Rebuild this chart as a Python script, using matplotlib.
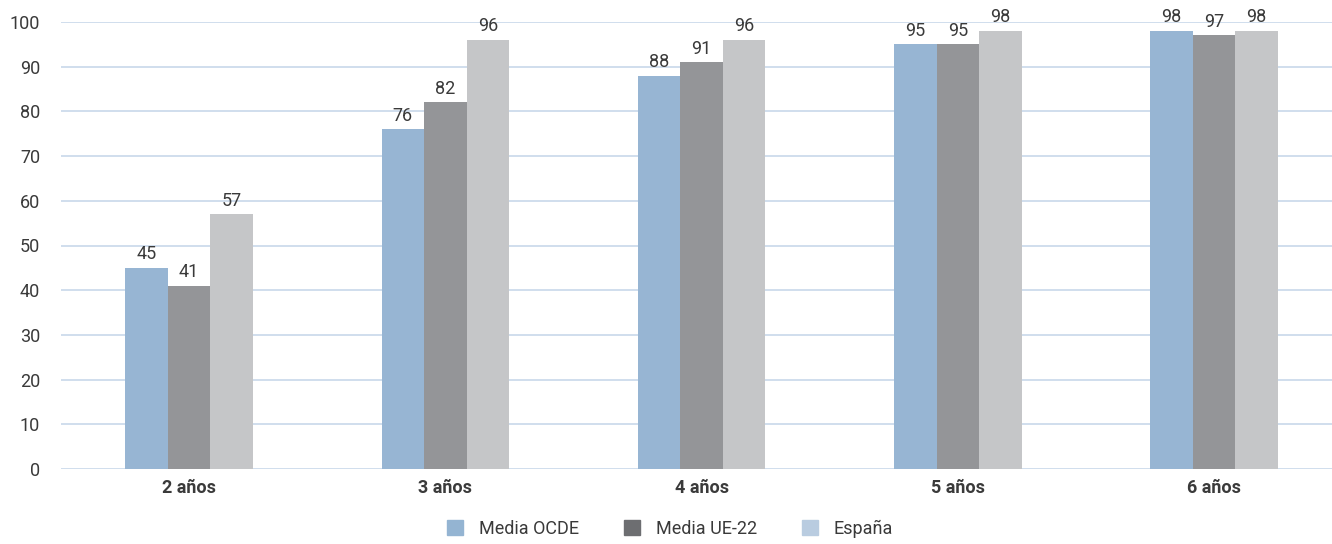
import matplotlib
matplotlib.use('Agg')
import matplotlib.pyplot as plt
from matplotlib.patches import Patch
import numpy as np

plt.rcParams['font.family'] = ['Roboto', 'DejaVu Sans']

categories = ['2 años', '3 años', '4 años', '5 años', '6 años']
series_names = ['Media OCDE', 'Media UE-22', 'España']
ocde = [45, 76, 88, 95, 98]
ue22 = [41, 82, 91, 95, 97]
espana = [57, 96, 96, 98, 98]

bar_colors = ['#97b5d3', '#949598', '#c5c6c8']
legend_colors = ['#94b4d2', '#6d6e71', '#b9cce0']
text_color = '#3a3a3a'

fig = plt.figure(figsize=(13.32, 5.44), dpi=100)
ax = fig.add_axes([61 / 1332, 75 / 544, 1 - 61 / 1332, 447 / 544])

x = np.arange(len(categories))
w = 0.166
for i, (vals, col) in enumerate(zip([ocde, ue22, espana], bar_colors)):
    pos = x + (i - 1) * w
    ax.bar(pos, vals, width=w, color=col, zorder=3)
    for p, v in zip(pos, vals):
        ax.text(p, v + 1.0, str(v), ha='center', va='bottom', fontsize=13, color=text_color)

ax.set_ylim(0, 100)
ax.set_xlim(-0.5, 4.46)
ax.set_yticks(range(0, 101, 10))
ax.yaxis.grid(True, color='#c8d8ea', linewidth=1.2, zorder=0)
ax.set_axisbelow(True)
for s in ax.spines.values():
    s.set_visible(False)
ax.tick_params(axis='y', length=0, pad=15, labelsize=13, labelcolor=text_color)
ax.tick_params(axis='x', length=0, pad=7, labelsize=13, labelcolor=text_color)
ax.set_xticks(x)
ax.set_xticklabels(categories, fontweight='bold')

handles = [Patch(color=c, label=n) for c, n in zip(legend_colors, series_names)]
fig.legend(handles=handles, loc='lower center', bbox_to_anchor=(0.503, -0.018), ncol=3,
           frameon=False, fontsize=13, handlelength=0.9, handleheight=0.9,
           columnspacing=2.5, handletextpad=0.85, labelcolor=text_color)

fig.savefig('out.png', dpi=100)
